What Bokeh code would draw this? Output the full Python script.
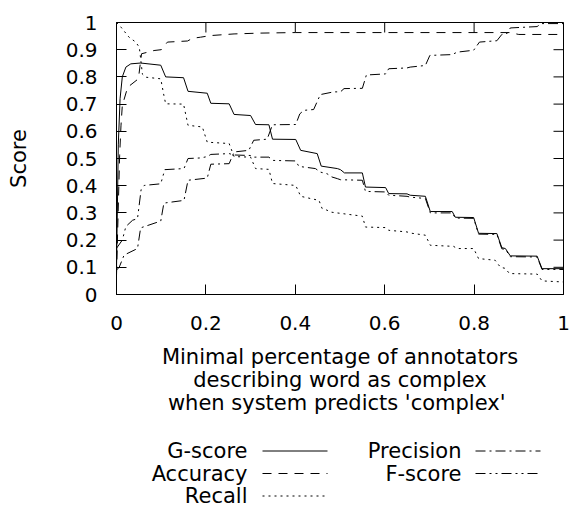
from bokeh.plotting import figure
from bokeh.models import Range1d, FixedTicker, Label
from bokeh.layouts import column
from bokeh.embed import file_html
from bokeh.resources import INLINE

FONT = "DejaVu Sans"

# ---------------- data ----------------
x_ticks = [0, 0.2, 0.4, 0.6, 0.8, 1]
x_tick_labels = ["0", "0.2", "0.4", "0.6", "0.8", "1"]
y_ticks = [0, 0.1, 0.2, 0.3, 0.4, 0.5, 0.6, 0.7, 0.8, 0.9, 1]
y_tick_labels = ["0", "0.1", "0.2", "0.3", "0.4", "0.5", "0.6", "0.7", "0.8", "0.9", "1"]

g_x = [0, 0.004, 0.008, 0.013, 0.021, 0.032, 0.054, 0.099, 0.110, 0.150, 0.160, 0.203, 0.211, 0.252, 0.263,
       0.300, 0.311, 0.341, 0.349, 0.401, 0.412, 0.449, 0.458, 0.494, 0.501, 0.510, 0.550, 0.557, 0.602, 0.609,
       0.650, 0.657, 0.691, 0.702, 0.751, 0.758, 0.799, 0.810, 0.851, 0.862, 0.870, 0.881, 0.941, 0.952, 1.0]
g_y = [0.09, 0.55, 0.72, 0.80, 0.836, 0.848, 0.851, 0.843, 0.80, 0.797, 0.747, 0.740, 0.703, 0.701, 0.662,
       0.658, 0.625, 0.624, 0.571, 0.570, 0.530, 0.518, 0.472, 0.463, 0.459, 0.447, 0.447, 0.395, 0.393, 0.371,
       0.370, 0.365, 0.361, 0.305, 0.305, 0.284, 0.283, 0.225, 0.224, 0.172, 0.169, 0.142, 0.141, 0.095, 0.095]

acc_x = [0, 0.007, 0.010, 0.013, 0.025, 0.049, 0.056, 0.084, 0.100, 0.114, 0.159, 0.170, 0.188, 0.211, 0.263,
         0.322, 0.40, 0.88, 0.90, 1.0]
acc_y = [0.07, 0.51, 0.62, 0.695, 0.762, 0.793, 0.885, 0.897, 0.90, 0.928, 0.932, 0.942, 0.946, 0.952, 0.958,
         0.961, 0.963, 0.963, 0.956, 0.956]

rec_x = [0, 0.010, 0.028, 0.043, 0.051, 0.054, 0.058, 0.065, 0.099, 0.106, 0.110, 0.150, 0.160, 0.192, 0.203,
         0.252, 0.263, 0.300, 0.311, 0.341, 0.349, 0.401, 0.412, 0.453, 0.460, 0.471, 0.479, 0.550, 0.557, 0.602,
         0.609, 0.650, 0.657, 0.691, 0.702, 0.754, 0.762, 0.799, 0.810, 0.847, 0.859, 0.870, 0.879, 0.941, 0.952, 1.0]
rec_y = [1.0, 0.983, 0.946, 0.928, 0.909, 0.867, 0.81, 0.799, 0.793, 0.732, 0.701, 0.70, 0.622, 0.616, 0.560,
         0.555, 0.507, 0.505, 0.463, 0.46, 0.408, 0.401, 0.361, 0.346, 0.316, 0.31, 0.303, 0.288, 0.248, 0.246,
         0.236, 0.230, 0.226, 0.218, 0.181, 0.177, 0.169, 0.169, 0.132, 0.126, 0.10, 0.096, 0.077, 0.075, 0.050, 0.046]

prec_x = [0, 0.006, 0.017, 0.047, 0.054, 0.099, 0.106, 0.151, 0.160, 0.203, 0.211, 0.252, 0.263, 0.296, 0.307,
          0.337, 0.349, 0.401, 0.410, 0.419, 0.441, 0.456, 0.486, 0.501, 0.509, 0.550, 0.559, 0.602, 0.609, 0.650,
          0.657, 0.691, 0.701, 0.751, 0.762, 0.799, 0.812, 0.851, 0.862, 0.874, 0.881, 0.941, 0.950, 1.0]
prec_y = [0.09, 0.10, 0.145, 0.169, 0.245, 0.270, 0.336, 0.346, 0.420, 0.428, 0.479, 0.481, 0.524, 0.530, 0.567,
          0.571, 0.624, 0.625, 0.664, 0.677, 0.680, 0.735, 0.745, 0.745, 0.757, 0.758, 0.807, 0.811, 0.830, 0.833,
          0.836, 0.842, 0.879, 0.882, 0.891, 0.898, 0.928, 0.933, 0.956, 0.960, 0.980, 0.985, 0.996, 0.996]

f_x = [0, 0.013, 0.021, 0.036, 0.047, 0.055, 0.062, 0.099, 0.108, 0.151, 0.160, 0.188, 0.203, 0.211, 0.252,
       0.263, 0.300, 0.307, 0.341, 0.349, 0.401, 0.408, 0.445, 0.456, 0.471, 0.482, 0.494, 0.501, 0.550, 0.557,
       0.602, 0.609, 0.650, 0.657, 0.691, 0.702, 0.751, 0.758, 0.799, 0.810, 0.851, 0.862, 0.870, 0.881, 0.941,
       0.952, 1.0]
f_y = [0.17, 0.20, 0.25, 0.273, 0.279, 0.385, 0.401, 0.407, 0.459, 0.463, 0.50, 0.502, 0.507, 0.515, 0.518,
       0.513, 0.511, 0.505, 0.505, 0.493, 0.491, 0.471, 0.463, 0.450, 0.444, 0.432, 0.426, 0.422, 0.42, 0.379,
       0.377, 0.365, 0.361, 0.358, 0.353, 0.300, 0.300, 0.281, 0.280, 0.222, 0.221, 0.168, 0.166, 0.139, 0.138,
       0.092, 0.092]

series_names = ["G-score", "Accuracy", "Recall", "Precision", "F-score"]
series_x = [g_x, acc_x, rec_x, prec_x, f_x]
series_y = [g_y, acc_y, rec_y, prec_y, f_y]
series_dash = ["solid", "9 7", "2 4", "10 4 2 4", "10 4 2 4 2 4"]

x_label = "Minimal percentage of annotators\ndescribing word as complex\n when system predicts 'complex'"
y_label = "Score"

# ---------------- layout constants ----------------
FIG_W = 572
BORDER_L, BORDER_R = 116, 9
BORDER_T, FRAME_H, BORDER_B = 22, 272, 126
FRAME_W = FIG_W - BORDER_L - BORDER_R
TICK_LEN = 10  # px, inward

# ---------------- main plot ----------------
p = figure(width=FIG_W, height=BORDER_T + FRAME_H + BORDER_B, x_range=Range1d(0, 1), y_range=Range1d(0, 1),
           output_backend="svg", toolbar_location=None,
           min_border_left=BORDER_L, min_border_right=BORDER_R,
           min_border_top=BORDER_T, min_border_bottom=BORDER_B)
p.xgrid.visible = False
p.ygrid.visible = False
p.outline_line_color = "black"
p.outline_line_width = 1
p.background_fill_color = "white"
p.border_fill_color = "white"

for ax in list(p.xaxis) + list(p.yaxis):
    ax.major_tick_in = TICK_LEN
    ax.major_tick_out = 0
    ax.minor_tick_line_color = None
    ax.major_tick_line_color = "black"
    ax.axis_line_color = "black"
    ax.major_label_text_font = FONT
    ax.major_label_text_font_size = "20px"
    ax.major_label_text_color = "black"
    ax.axis_label_text_font = FONT
    ax.axis_label_text_font_size = "21px"
    ax.axis_label_text_font_style = "normal"
    ax.axis_label_text_color = "black"

p.xaxis.ticker = FixedTicker(ticks=x_ticks)
p.xaxis.major_label_overrides = dict(zip(x_ticks, x_tick_labels))
p.xaxis.major_label_standoff = 21
p.xaxis.axis_label = x_label
p.xaxis.axis_label_standoff = 12
p.xaxis.axis_label_text_line_height = 0.97

p.yaxis.ticker = FixedTicker(ticks=y_ticks)
p.yaxis.major_label_overrides = dict(zip(y_ticks, y_tick_labels))
p.yaxis.major_label_standoff = 19
p.yaxis.axis_label = y_label
p.yaxis.axis_label_standoff = 32

# mirrored inward ticks on the top and right edges of the frame
ty = TICK_LEN / FRAME_H
tx = TICK_LEN / FRAME_W
p.segment(x0=x_ticks, y0=[1] * len(x_ticks), x1=x_ticks, y1=[1 - ty] * len(x_ticks),
          line_color="black", line_width=1)
p.segment(x0=[1] * len(y_ticks), y0=y_ticks, x1=[1 - tx] * len(y_ticks), y1=y_ticks,
          line_color="black", line_width=1)

for xs, ys, dash in zip(series_x, series_y, series_dash):
    p.line(xs, ys, line_color="black", line_width=1, line_dash=dash)

# ---------------- legend (gnuplot style: label, then line sample) ----------------
# legend panel uses page-pixel coordinates across the same frame span as the main plot
LH = 88
leg = figure(width=FIG_W, height=LH,
             x_range=Range1d(BORDER_L, BORDER_L + FRAME_W), y_range=Range1d(LH, 0),
             output_backend="svg", toolbar_location=None, x_axis_type=None, y_axis_type=None,
             min_border_left=BORDER_L, min_border_right=BORDER_R, min_border_top=0, min_border_bottom=0,
             outline_line_color=None)
leg.background_fill_color = "white"
leg.border_fill_color = "white"

col_label_right = [247, 461]
col_sample_start = [262, 475]
sample_len = 65
row_y = [30.5, 53, 75.5]
entry_pos = [(0, 0), (0, 1), (0, 2), (1, 0), (1, 1)]

for name, dash, (c, r) in zip(series_names, series_dash, entry_pos):
    yy = row_y[r]
    leg.add_layout(Label(x=col_label_right[c], y=yy, text=name, text_align="right",
                         text_baseline="middle", text_font=FONT, text_font_size="21px",
                         text_color="black"))
    x0 = col_sample_start[c]
    leg.line([x0, x0 + sample_len], [yy, yy], line_color="black", line_width=1, line_dash=dash)

layout = column(p, leg, spacing=0)
open("out.html", "w").write(file_html(layout, INLINE))
